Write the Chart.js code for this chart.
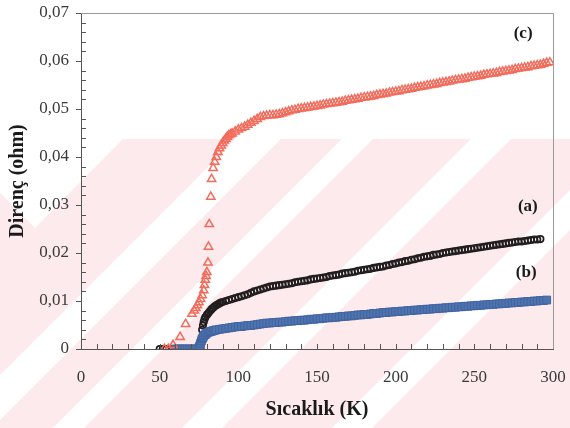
<!DOCTYPE html>
<html>
<head>
<meta charset="utf-8">
<script src="https://cdn.jsdelivr.net/npm/chart.js@4"></script>
<style>
  body { margin: 0; background: #fff; }
  canvas { display: block; }
</style>
</head>
<body>
<canvas id="grafik" width="570" height="428"></canvas>
<script>
// okunan degerler: [sicaklik (K), direnc (ohm)]
const serieA = [
  [50,0],[52,0],[54,0],[56,0],[58,0],[60,0],[62,0],[64,0],[66,0],[68,0],[70,0],[72,0],[74,0],[76,0],
  [77,0.0040],[77.5,0.0049],[78,0.0056],[78.5,0.0062],[79,0.0066],[80,0.0071],[81,0.0075],[82,0.0079],
  [83,0.0083],[84,0.0086],[85,0.0089],[86,0.0091],[87,0.0093],[88,0.0095],[89,0.0097],[90,0.0098],
  [92,0.0100],[94,0.0102],[96,0.0104],[98,0.0106],[100,0.0108],
  [102,0.0110],[104,0.0112],[106,0.0114],[108,0.0117],[110,0.0120],[112,0.0122],[114,0.0124],[116,0.0126],
  [118,0.0128],[120,0.0130],[122,0.0131],[124,0.0132],[126,0.0133],[128,0.0134],[130,0.0135],
  [132,0.0136],[134,0.0137],[136,0.0139],[138,0.0140],[140,0.0141],[142,0.0142],[144,0.0143],[146,0.0145],
  [148,0.0146],[150,0.0147],[152,0.0148],[154,0.0149],[156,0.0150],[158,0.0152],[160,0.0153],[162,0.0154],
  [164,0.0155],[166,0.0157],[168,0.0158],[170,0.0159],[172,0.0160],[174,0.0161],[176,0.0163],[178,0.0164],
  [180,0.0165],[182,0.0166],[184,0.0167],[186,0.0169],[188,0.0170],[190,0.0171],[192,0.0172],[194,0.0174],
  [196,0.0175],[198,0.0177],[200,0.0178],[202,0.0180],[204,0.0181],[206,0.0183],[208,0.0184],[210,0.0186],
  [212,0.0187],[214,0.0189],[216,0.0190],[218,0.0192],[220,0.0193],[222,0.0194],[224,0.0196],[226,0.0197],
  [228,0.0198],[230,0.0200],[232,0.0201],[234,0.0202],[236,0.0203],[238,0.0204],[240,0.0205],[242,0.0206],
  [244,0.0207],[246,0.0208],[248,0.0209],[250,0.0210],[252,0.0211],[254,0.0212],[256,0.0213],[258,0.0214],
  [260,0.0215],[262,0.0216],[264,0.0217],[266,0.0218],[268,0.0219],[270,0.0220],[272,0.0221],[274,0.0222],
  [276,0.0223],[278,0.0224],[280,0.0224],[282,0.0225],[284,0.0226],[286,0.0227],[288,0.0228],[290,0.0228],
  [292,0.0229]
];

const serieB = [
  [60,0],[61.5,0],[63,0],[64.5,0],[66,0],[67.5,0],[69,0],[70.5,0],[72,0],[73.5,0],
  [75,0.0003],[75.5,0.0007],[76,0.0012],[76.5,0.0017],[77,0.0021],[77.5,0.0024],[78,0.0027],[79,0.0030],
  [80,0.0033],[81,0.0035],[82,0.0036],[83,0.0037],[84,0.0038],[85,0.0039],[86,0.0040],[88,0.0041],
  [90,0.0042],[92,0.0043],[94,0.0044],[96,0.0045],[98,0.0046],[100,0.0047],
  [102,0.0047],[104,0.0048],[106,0.0049],[108,0.0049],[110,0.0050],[112,0.0051],[114,0.0052],[116,0.0053],
  [118,0.0054],[120,0.0054],[122,0.0055],[124,0.0055],[126,0.0056],[128,0.0056],[130,0.0057],[132,0.0058],
  [134,0.0058],[136,0.0059],[138,0.0059],[140,0.0060],[142,0.0060],[144,0.0061],[146,0.0062],[148,0.0062],
  [150,0.0063],[152,0.0063],[154,0.0064],[156,0.0065],[158,0.0065],[160,0.0066],[162,0.0066],[164,0.0067],
  [166,0.0068],[168,0.0068],[170,0.0069],[172,0.0069],[174,0.0070],[176,0.0071],[178,0.0071],[180,0.0072],
  [182,0.0072],[184,0.0073],[186,0.0074],[188,0.0074],[190,0.0075],[192,0.0076],[194,0.0076],[196,0.0077],
  [198,0.0077],[200,0.0078],[202,0.0078],[204,0.0079],[206,0.0079],[208,0.0080],[210,0.0080],[212,0.0081],
  [214,0.0081],[216,0.0082],[218,0.0082],[220,0.0083],[222,0.0083],[224,0.0084],[226,0.0084],[228,0.0085],
  [230,0.0085],[232,0.0086],[234,0.0086],[236,0.0087],[238,0.0087],[240,0.0088],[242,0.0088],[244,0.0089],
  [246,0.0089],[248,0.0090],[250,0.0090],[252,0.0091],[254,0.0091],[256,0.0092],[258,0.0092],[260,0.0093],
  [262,0.0093],[264,0.0094],[266,0.0094],[268,0.0095],[270,0.0095],[272,0.0096],[274,0.0096],[276,0.0097],
  [278,0.0097],[280,0.0098],[282,0.0098],[284,0.0099],[286,0.0099],[288,0.0100],[290,0.0100],[292,0.0101],
  [294,0.0101],[296,0.0102]
];

const serieC = [
  [53,0],[55.5,0],[58.5,0.0008],[63,0.0025],[66.5,0.0052],[70.5,0.0073],[72,0.0080],[73,0.0085],
  [74,0.0091],[75,0.0097],[76,0.0104],[77,0.0112],[78,0.0122],[78.5,0.0133],[79,0.0144],[79.5,0.0152],
  [80,0.0160],[80.7,0.0180],[81,0.0213],[81.5,0.0260],[82.5,0.0317],[83,0.0354],[84,0.0377],[85,0.0390],
  [86,0.0400],[87,0.0410],[88,0.0418],[89,0.0424],[90,0.0429],[91,0.0434],[92,0.0438],[93,0.0442],
  [94,0.0445],[95,0.0447],[96,0.0449],[98,0.0453],[100,0.0457],
  [102,0.0460],[104,0.0463],[106,0.0467],[108,0.0471],[110,0.0475],[112,0.0479],[114,0.0483],[116,0.0485],
  [118,0.0486],[120,0.0487],[122,0.0487],[124,0.0488],[126,0.0489],[128,0.0491],[130,0.0493],[132,0.0495],
  [134,0.0497],[136,0.0498],[138,0.0500],[140,0.0501],[142,0.0502],[144,0.0503],[146,0.0504],[148,0.0505],
  [150,0.0506],[152,0.0507],[154,0.0509],[156,0.0510],[158,0.0511],[160,0.0512],[162,0.0513],[164,0.0514],
  [166,0.0515],[168,0.0517],[170,0.0518],[172,0.0519],[174,0.0520],[176,0.0521],[178,0.0523],[180,0.0524],
  [182,0.0525],[184,0.0526],[186,0.0527],[188,0.0529],[190,0.0530],[192,0.0531],[194,0.0532],[196,0.0534],
  [198,0.0535],[200,0.0536],[202,0.0537],[204,0.0539],[206,0.0540],[208,0.0541],[210,0.0542],[212,0.0544],
  [214,0.0545],[216,0.0546],[218,0.0547],[220,0.0549],[222,0.0550],[224,0.0551],[226,0.0552],[228,0.0554],
  [230,0.0555],[232,0.0556],[234,0.0557],[236,0.0559],[238,0.0560],[240,0.0561],[242,0.0562],[244,0.0563],
  [246,0.0565],[248,0.0566],[250,0.0567],[252,0.0568],[254,0.0569],[256,0.0571],[258,0.0572],[260,0.0573],
  [262,0.0574],[264,0.0575],[266,0.0577],[268,0.0578],[270,0.0579],[272,0.0580],[274,0.0581],[276,0.0583],
  [278,0.0584],[280,0.0585],[282,0.0586],[284,0.0587],[286,0.0589],[288,0.0590],[290,0.0591],[292,0.0592],
  [294,0.0594],[296,0.0596],[298,0.0597]
];

const serieEtiketleri = ['(a)', '(b)', '(c)'];
const etiketYerleri = [[284, 0.0296], [283, 0.0160], [281, 0.0658]];  // [K, ohm]

const xBaslik = 'Sıcaklık (K)';
const yBaslik = 'Direnç (ohm)';

const serif = '"Liberation Serif", "DejaVu Serif", serif';

function toPoints(serie) {
    return serie.map(p => ({ x: p[0], y: p[1] }));
}

// arka plandaki pembe filigran (tez merkezi damgasi)
const filigran = {
    id: 'filigran',
    beforeDraw(chart) {
        const ctx = chart.ctx;
        const w = chart.width, h = chart.height, top = 139;
        ctx.save();
        ctx.fillStyle = 'rgb(252,234,237)';
        ctx.fillRect(0, top, w, h - top);
        ctx.fillStyle = '#ffffff';
        // sol ust beyaz kama
        ctx.beginPath();
        ctx.moveTo(0, top); ctx.lineTo(123, top); ctx.lineTo(35, 228); ctx.lineTo(0, 193);
        ctx.closePath(); ctx.fill();
        // "/" yonlu beyaz seritler (x + y araligi)
        [[375, 420], [481, 512], [610, 650], [760, 800]].forEach(b => {
            ctx.beginPath();
            ctx.moveTo(b[0] - top, top); ctx.lineTo(b[1] - top, top);
            ctx.lineTo(b[1] - h, h); ctx.lineTo(b[0] - h, h);
            ctx.closePath(); ctx.fill();
        });
        ctx.restore();
    }
};

// ic/dis tik isaretleri, cerceve ve seri etiketleri
const eksenSusleri = {
    id: 'eksenSusleri',
    afterDraw(chart) {
        const ctx = chart.ctx;
        const xs = chart.scales.x, ys = chart.scales.y;
        const a = chart.chartArea;
        ctx.save();
        ctx.strokeStyle = '#555';
        ctx.lineWidth = 1;
        ctx.beginPath();
        xs.ticks.forEach(t => {
            const px = Math.round(xs.getPixelForValue(t.value)) + 0.5;
            ctx.moveTo(px, a.bottom);
            ctx.lineTo(px, a.bottom - 5);
        });
        ys.ticks.forEach(t => {
            const py = Math.round(ys.getPixelForValue(t.value)) + 0.5;
            const major = Math.abs(t.value * 100 - Math.round(t.value * 100)) < 1e-6;
            if (major) {
                ctx.moveTo(a.left - 5, py); ctx.lineTo(a.left, py);
            } else {
                ctx.moveTo(a.left, py); ctx.lineTo(a.left + 5, py);
            }
        });
        ctx.stroke();

        ctx.strokeStyle = '#999';
        ctx.beginPath();
        ctx.moveTo(a.left, a.top + 0.5);
        ctx.lineTo(a.right + 0.5, a.top + 0.5);
        ctx.lineTo(a.right + 0.5, a.bottom);
        ctx.stroke();

        ctx.fillStyle = '#1a1a1a';
        ctx.font = 'bold 17px ' + serif;
        ctx.textAlign = 'center';
        ctx.textBaseline = 'middle';
        serieEtiketleri.forEach((lbl, i) => {
            ctx.fillText(lbl, xs.getPixelForValue(etiketYerleri[i][0]), ys.getPixelForValue(etiketYerleri[i][1]));
        });
        ctx.restore();
    }
};

const ctx = document.getElementById('grafik').getContext('2d');
new Chart(ctx, {
    type: 'scatter',
    data: {
        datasets: [
            {
                label: '(c)',
                data: toPoints(serieC),
                pointStyle: 'triangle',
                pointRadius: 4.8,
                borderWidth: 1.5,
                borderColor: 'rgb(242,108,92)',
                backgroundColor: 'rgba(255,255,255,0)'
            },
            {
                label: '(b)',
                data: toPoints(serieB),
                pointStyle: 'rect',
                pointRadius: 5.5,
                borderWidth: 1,
                borderColor: 'rgb(66,100,160)',
                backgroundColor: 'rgb(78,116,176)'
            },
            {
                label: '(a)',
                data: toPoints(serieA),
                pointStyle: 'circle',
                pointRadius: 3.2,
                borderWidth: 1.7,
                borderColor: '#221e1f',
                backgroundColor: 'rgba(255,255,255,0)'
            }
        ]
    },
    options: {
        responsive: false,
        animation: false,
        devicePixelRatio: 1,
        layout: { padding: { left: 0, right: 17, top: 13, bottom: 0 } },
        plugins: {
            legend: { display: false },
            tooltip: { enabled: false }
        },
        scales: {
            x: {
                type: 'linear',
                min: 0,
                max: 300,
                afterFit: s => {
                    s.height = 79;
                    s.paddingLeft = 0;
                    s.paddingRight = 0;
                },
                border: { color: '#555', width: 1 },
                grid: { display: false, drawTicks: false },
                ticks: {
                    stepSize: 10,
                    autoSkip: false,
                    maxRotation: 0,
                    padding: 18,
                    color: '#3a3a3a',
                    font: { family: serif, size: 17 },
                    callback: v => (v % 50 === 0 ? String(v) : '')
                },
                title: {
                    display: true,
                    text: xBaslik,
                    color: '#1a1a1a',
                    font: { family: serif, size: 20, weight: 'bold' },
                    padding: { top: 0, bottom: 6 }
                }
            },
            y: {
                type: 'linear',
                min: 0,
                max: 0.07,
                afterFit: s => {
                    s.width = 81;
                    s.paddingTop = 0;
                    s.paddingBottom = 0;
                },
                border: { color: '#555', width: 1 },
                grid: { display: false, drawTicks: false },
                ticks: {
                    stepSize: 0.002,
                    autoSkip: false,
                    padding: 12,
                    color: '#3a3a3a',
                    font: { family: serif, size: 17 },
                    callback: v => {
                        const r = Math.round(v * 100);
                        if (Math.abs(v * 100 - r) > 1e-6) return '';
                        return r === 0 ? '0' : (r / 100).toFixed(2).replace('.', ',');
                    }
                },
                title: {
                    display: true,
                    text: yBaslik,
                    color: '#1a1a1a',
                    font: { family: serif, size: 20, weight: 'bold' },
                    padding: { top: 6, bottom: 4 }
                }
            }
        }
    },
    plugins: [filigran, eksenSusleri]
});
</script>
</body>
</html>
